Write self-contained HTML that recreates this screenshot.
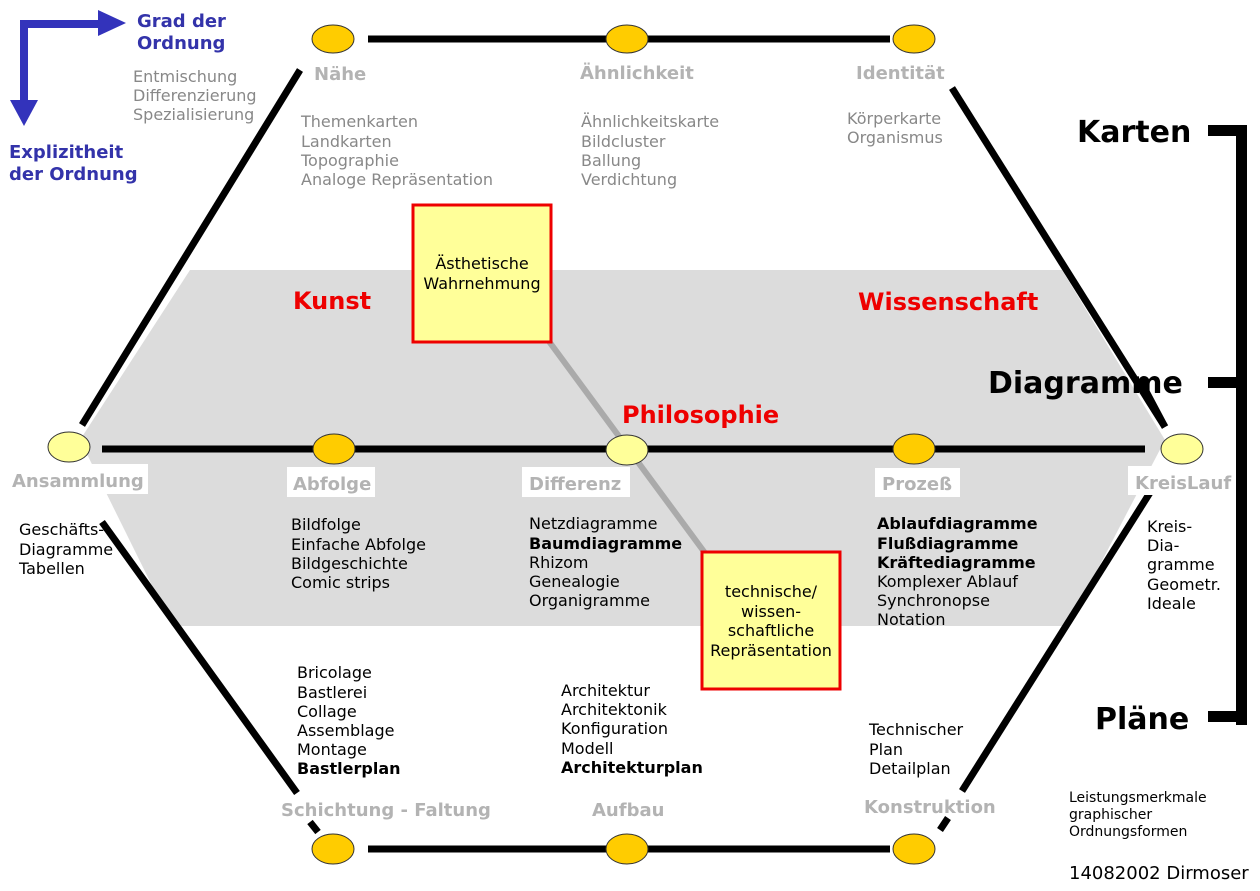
<!DOCTYPE html>
<html><head><meta charset="utf-8"><style>
html,body{margin:0;padding:0;background:#fff}
svg{display:block}
text{font-family:"DejaVu Sans","Liberation Sans",sans-serif}
.n{font-size:16px;fill:#000}
.g{font-size:16px;fill:#888}
.lb{font-size:18px;font-weight:bold;fill:#b3b3b3}
.b{font-weight:bold}
.r{font-size:24px;font-weight:bold;fill:#e00}
.big{font-size:30px;font-weight:bold;fill:#000}
.bl{font-size:18px;font-weight:bold;fill:#3333aa}
</style></head><body>
<svg width="1260" height="891" viewBox="0 0 1260 891" xmlns="http://www.w3.org/2000/svg">
<polygon points="190,270 1062,270 1165,440 1068,626 172,626 80,440" fill="#dcdcdc"/>
<path d="M24,103 V24 H100" fill="none" stroke="#3333bb" stroke-width="8"/>
<polygon points="98,10 126,23 98,36" fill="#3333bb"/>
<polygon points="10,100 38,100 24,126" fill="#3333bb"/>
<text class="bl" x="137" y="27">Grad der</text>
<text class="bl" x="137" y="49">Ordnung</text>
<text class="bl" x="9" y="158">Explizitheit</text>
<text class="bl" x="9" y="180">der Ordnung</text>
<text class="g" x="133" y="82">Entmischung</text>
<text class="g" x="133" y="101">Differenzierung</text>
<text class="g" x="133" y="120">Spezialisierung</text>

<g stroke="#000" stroke-width="7">
<line x1="368" y1="39" x2="890" y2="39"/>
<line x1="102" y1="449" x2="1145" y2="449"/>
<line x1="368" y1="849" x2="890" y2="849"/>
<line x1="300" y1="70" x2="82" y2="425"/>
<line x1="952" y1="88" x2="1165" y2="427"/>
<line x1="102" y1="522" x2="297" y2="793"/>
<line x1="310" y1="822" x2="318" y2="832"/>
<line x1="1163" y1="472" x2="962" y2="791"/>
<line x1="948" y1="818" x2="940" y2="830"/>
</g>
<line x1="548" y1="340" x2="705" y2="553" stroke="#aaa" stroke-width="6"/>

<g fill="#000">
<rect x="1236" y="125" width="11" height="600"/>
<rect x="1208" y="125" width="30" height="11"/>
<rect x="1208" y="377" width="30" height="11"/>
<rect x="1208" y="711" width="30" height="11"/>
</g>
<text class="big" x="1077" y="142">Karten</text>
<text class="big" x="988" y="393">Diagramme</text>
<text class="big" x="1095" y="729">Pläne</text>
<line x1="1140" y1="380" x2="1165" y2="427" stroke="#000" stroke-width="7"/>

<g stroke="#333" stroke-width="1">
<ellipse cx="333" cy="39" rx="21" ry="14" fill="#ffcc00"/>
<ellipse cx="627" cy="39" rx="21" ry="14" fill="#ffcc00"/>
<ellipse cx="914" cy="39" rx="21" ry="14" fill="#ffcc00"/>
<ellipse cx="69" cy="447" rx="21" ry="15" fill="#ffff99"/>
<ellipse cx="334" cy="449" rx="21" ry="15" fill="#ffcc00"/>
<ellipse cx="627" cy="450" rx="21" ry="15" fill="#ffff99"/>
<ellipse cx="914" cy="449" rx="21" ry="15" fill="#ffcc00"/>
<ellipse cx="1182" cy="449" rx="21" ry="15" fill="#ffff99"/>
<ellipse cx="333" cy="849" rx="21" ry="15" fill="#ffcc00"/>
<ellipse cx="627" cy="849" rx="21" ry="15" fill="#ffcc00"/>
<ellipse cx="914" cy="849" rx="21" ry="15" fill="#ffcc00"/>
</g>

<text class="lb" x="314" y="80">Nähe</text>
<text class="lb" x="580" y="79">Ähnlichkeit</text>
<text class="lb" x="856" y="79">Identität</text>
<text class="g" x="301" y="127">Themenkarten</text>
<text class="g" x="301" y="147">Landkarten</text>
<text class="g" x="301" y="166">Topographie</text>
<text class="g" x="301" y="185">Analoge Repräsentation</text>
<text class="g" x="581" y="127">Ähnlichkeitskarte</text>
<text class="g" x="581" y="147">Bildcluster</text>
<text class="g" x="581" y="166">Ballung</text>
<text class="g" x="581" y="185">Verdichtung</text>
<text class="g" x="847" y="124">Körperkarte</text>
<text class="g" x="847" y="143">Organismus</text>

<rect x="413" y="205" width="138" height="137" fill="#ffff99" stroke="#e00" stroke-width="3"/>
<text class="n" x="482" y="269" text-anchor="middle">Ästhetische</text>
<text class="n" x="482" y="289" text-anchor="middle">Wahrnehmung</text>
<rect x="702" y="552" width="138" height="137" fill="#ffff99" stroke="#e00" stroke-width="3"/>
<text class="n" x="771" y="597" text-anchor="middle">technische/</text>
<text class="n" x="771" y="617" text-anchor="middle">wissen-</text>
<text class="n" x="771" y="636" text-anchor="middle">schaftliche</text>
<text class="n" x="771" y="656" text-anchor="middle">Repräsentation</text>

<text class="r" x="293" y="309">Kunst</text>
<text class="r" x="858" y="310">Wissenschaft</text>
<text class="r" x="622" y="423">Philosophie</text>

<g fill="#fff">
<rect x="8" y="464" width="140" height="30"/>
<rect x="287" y="467" width="88" height="30"/>
<rect x="522" y="467" width="108" height="30"/>
<rect x="875" y="468" width="85" height="29"/>
<rect x="1128" y="466" width="108" height="29"/>
</g>
<text class="lb" x="12" y="487">Ansammlung</text>
<text class="lb" x="293" y="490">Abfolge</text>
<text class="lb" x="529" y="490">Differenz</text>
<text class="lb" x="882" y="490">Prozeß</text>
<text class="lb" x="1135" y="489">KreisLauf</text>

<text class="n" x="19" y="535">Geschäfts-</text>
<text class="n" x="19" y="555">Diagramme</text>
<text class="n" x="19" y="574">Tabellen</text>

<text class="n" x="291" y="530">Bildfolge</text>
<text class="n" x="291" y="550">Einfache Abfolge</text>
<text class="n" x="291" y="569">Bildgeschichte</text>
<text class="n" x="291" y="588">Comic strips</text>

<text class="n" x="529" y="529">Netzdiagramme</text>
<text class="n b" x="529" y="549">Baumdiagramme</text>
<text class="n" x="529" y="568">Rhizom</text>
<text class="n" x="529" y="587">Genealogie</text>
<text class="n" x="529" y="606">Organigramme</text>

<text class="n b" x="877" y="529">Ablaufdiagramme</text>
<text class="n b" x="877" y="549">Flußdiagramme</text>
<text class="n b" x="877" y="568">Kräftediagramme</text>
<text class="n" x="877" y="587">Komplexer Ablauf</text>
<text class="n" x="877" y="606">Synchronopse</text>
<text class="n" x="877" y="625">Notation</text>

<text class="n" x="1147" y="532">Kreis-</text>
<text class="n" x="1147" y="551">Dia-</text>
<text class="n" x="1147" y="570">gramme</text>
<text class="n" x="1147" y="590">Geometr.</text>
<text class="n" x="1147" y="609">Ideale</text>

<text class="n" x="297" y="678">Bricolage</text>
<text class="n" x="297" y="698">Bastlerei</text>
<text class="n" x="297" y="717">Collage</text>
<text class="n" x="297" y="736">Assemblage</text>
<text class="n" x="297" y="755">Montage</text>
<text class="n b" x="297" y="774">Bastlerplan</text>

<text class="n" x="561" y="696">Architektur</text>
<text class="n" x="561" y="715">Architektonik</text>
<text class="n" x="561" y="734">Konfiguration</text>
<text class="n" x="561" y="754">Modell</text>
<text class="n b" x="561" y="773">Architekturplan</text>

<text class="n" x="869" y="735">Technischer</text>
<text class="n" x="869" y="755">Plan</text>
<text class="n" x="869" y="774">Detailplan</text>

<text class="lb" x="281" y="816">Schichtung - Faltung</text>
<text class="lb" x="592" y="816">Aufbau</text>
<text class="lb" x="864" y="813">Konstruktion</text>

<text class="n" x="1069" y="802" style="font-size:14px">Leistungsmerkmale</text>
<text class="n" x="1069" y="819" style="font-size:14px">graphischer</text>
<text class="n" x="1069" y="836" style="font-size:14px">Ordnungsformen</text>
<text class="n" x="1069" y="879" style="font-size:18px">14082002 Dirmoser</text>
</svg>
</body></html>
